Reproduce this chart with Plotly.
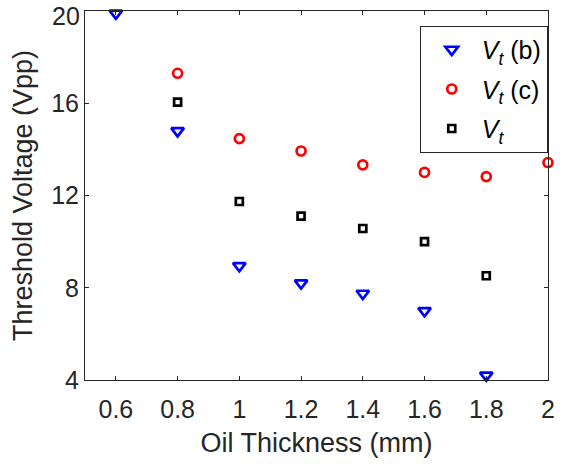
import plotly.graph_objects as go

x_b = [0.6, 0.8, 1.0, 1.2, 1.4, 1.6, 1.8]
vt_b = [19.9, 14.8, 8.95, 8.2, 7.75, 7.0, 4.2]

x_c = [0.8, 1.0, 1.2, 1.4, 1.6, 1.8, 2.0]
vt_c = [17.3, 14.47, 13.93, 13.33, 13.0, 12.82, 13.43]

x_t = [0.8, 1.0, 1.2, 1.4, 1.6, 1.8]
vt = [16.05, 11.74, 11.11, 10.57, 10.0, 8.52]

x_ticks = [0.6, 0.8, 1.0, 1.2, 1.4, 1.6, 1.8, 2.0]
x_tick_text = ["0.6", "0.8", "1", "1.2", "1.4", "1.6", "1.8", "2"]
y_ticks = [4, 8, 12, 16, 20]
y_tick_text = ["4", "8", "12", "16", "20"]

FONT = "Arial, Liberation Sans, sans-serif"
INK = "#262626"

fig = go.Figure()
fig.add_trace(go.Scatter(
    x=x_b, y=vt_b, mode="markers", name="<i>V</i><sub><i>t</i></sub> (b)", legendgroup="b",
    marker=dict(symbol="triangle-down-open", size=11, color="blue", line=dict(width=2.7, color="blue")),
    cliponaxis=False))
fig.add_trace(go.Scatter(
    x=x_c, y=vt_c, mode="markers", name="<i>V</i><sub><i>t</i></sub> (c)", legendgroup="c",
    marker=dict(symbol="circle-open", size=9, color="red", line=dict(width=2.7, color="red")),
    cliponaxis=False))
fig.add_trace(go.Scatter(
    x=x_t, y=vt, mode="markers", name="<i>V</i><sub><i>t</i></sub>", legendgroup="t",
    marker=dict(symbol="square-open", size=7, color="black", line=dict(width=2.7, color="black")),
    cliponaxis=False))

axis_common = dict(
    showline=True, linecolor=INK, linewidth=1, mirror="ticks",
    ticks="inside", ticklen=4, tickcolor=INK, tickwidth=1,
    showgrid=False, zeroline=False,
    tickfont=dict(family=FONT, size=25, color=INK),
)

# top y tick label drawn as annotation (shifted down so it is not cut off)
y_text_main = y_tick_text[:-1] + [""]

fig.update_layout(
    width=565, height=464,
    margin=dict(l=85, r=10, t=10, b=84),
    paper_bgcolor="white", plot_bgcolor="white",
    font=dict(family=FONT, color=INK),
    xaxis=dict(range=[0.5, 2.0], tickvals=x_ticks, ticktext=x_tick_text, ticklabelstandoff=7,
               title=dict(text="Oil Thickness (mm)", font=dict(family=FONT, size=27, color=INK), standoff=11),
               **axis_common),
    yaxis=dict(range=[4, 20], tickvals=y_ticks, ticktext=y_text_main,
               title=dict(text="Threshold Voltage (Vpp)", font=dict(family=FONT, size=27, color=INK), standoff=10),
               **axis_common),
    legend=dict(x=0.723, y=0.96, xanchor="left", yanchor="top",
                bordercolor=INK, borderwidth=1, bgcolor="white",
                font=dict(family=FONT, size=25, color="black"),
                itemwidth=50, indentation=1, tracegroupgap=4,
                entrywidth=83, entrywidthmode="pixels"),
    showlegend=True,
    annotations=[dict(x=0, xref="paper", xanchor="right", xshift=-3,
                      y=y_ticks[-1], yref="y", yanchor="middle", yshift=-5,
                      text=y_tick_text[-1], showarrow=False,
                      font=dict(family=FONT, size=25, color=INK))],
)

fig.write_html("out.html")
